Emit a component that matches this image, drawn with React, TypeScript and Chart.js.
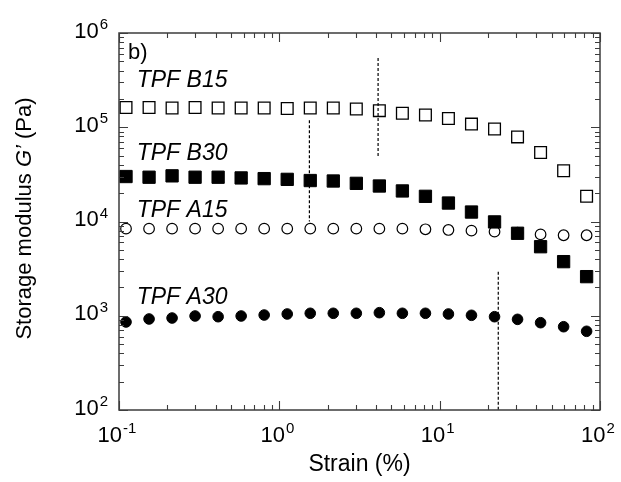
import React, { useEffect, useRef } from 'react';
import { Chart, registerables } from 'chart.js';

Chart.register(...registerables);

// ---- data ----
const strain = [0.1106, 0.154, 0.2143, 0.2982, 0.4152, 0.5779, 0.8043, 1.12, 1.559, 2.17, 3.021, 4.206, 5.854, 8.152, 11.34, 15.79, 21.99, 30.6, 42.6, 59.3, 82.5];
const tpfB15 = [1.62e5, 1.62e5, 1.6e5, 1.62e5, 1.6e5, 1.6e5, 1.6e5, 1.58e5, 1.6e5, 1.6e5, 1.56e5, 1.5e5, 1.41e5, 1.35e5, 1.24e5, 1.08e5, 9.6e4, 7.9e4, 5.4e4, 3.46e4, 1.85e4];
const tpfB30 = [3.0e4, 2.95e4, 3.05e4, 2.95e4, 2.95e4, 2.9e4, 2.85e4, 2.8e4, 2.72e4, 2.69e4, 2.54e4, 2.38e4, 2.11e4, 1.85e4, 1.57e4, 1.26e4, 9.9e3, 7.5e3, 5.4e3, 3.75e3, 2.6e3];
const tpfA15 = [8.4e3, 8.4e3, 8.4e3, 8.4e3, 8.4e3, 8.4e3, 8.4e3, 8.4e3, 8.4e3, 8.4e3, 8.4e3, 8.4e3, 8.4e3, 8.27e3, 8.13e3, 8.0e3, 7.8e3, 7.6e3, 7.3e3, 7.15e3, 7.15e3];
const tpfA30 = [859, 924, 946, 994, 977, 994, 1018, 1044, 1062, 1062, 1062, 1078, 1062, 1062, 1044, 1011, 977, 916, 844, 765, 684];

// dashed vertical markers: [x, yTop, yBottom]
const markerB30 = [1.54, 1.19e5, 1.0e4];
const markerB15 = [4.13, 5.43e5, 4.83e4];
const markerA30 = [23.2, 2.93e3, 100];

const xTickExps = [-1, 0, 1, 2];
const yTickExps = [2, 3, 4, 5, 6];
const seriesLabels = ['TPF B15', 'TPF B30', 'TPF A15', 'TPF A30'];
const panelLabel = 'b)';
const xTitle = 'Strain (%)';
const yTitleParts = ['Storage modulus ', 'G’', ' (Pa)'];

const FONT = '"Liberation Sans", Arial, Helvetica, sans-serif';

const pts = (ys: number[]) => strain.map((x, i) => ({ x, y: ys[i] }));
const vline = (m: number[]) => [{ x: m[0], y: m[1] }, { x: m[0], y: m[2] }];

const framePlugin = {
  id: 'framePlugin',
  afterDraw(chart: any) {
    const { ctx, chartArea: a, scales } = chart;
    const xs = scales.x;
    const ys = scales.y;
    ctx.save();
    // frame
    ctx.strokeStyle = '#3c3c3c';
    ctx.lineWidth = 1.5;
    ctx.strokeRect(a.left, a.top, a.right - a.left, a.bottom - a.top);
    // ticks
    ctx.lineWidth = 1.1;
    ctx.beginPath();
    const xMin = xTickExps[0], xMax = xTickExps[xTickExps.length - 1];
    for (let d = xMin; d <= xMax; d++) {
      for (let m = 1; m <= 9; m++) {
        if (d === xMax && m > 1) break;
        const px = Math.round(xs.getPixelForValue(m * Math.pow(10, d))) + 0.5;
        const len = m === 1 ? 9 : 5;
        ctx.moveTo(px, a.bottom);
        ctx.lineTo(px, a.bottom - len);
        ctx.moveTo(px, a.top);
        ctx.lineTo(px, a.top + len);
      }
    }
    const yMin = yTickExps[0], yMax = yTickExps[yTickExps.length - 1];
    for (let d = yMin; d <= yMax; d++) {
      for (let m = 1; m <= 9; m++) {
        if (d === yMax && m > 1) break;
        const py = Math.round(ys.getPixelForValue(m * Math.pow(10, d))) + 0.5;
        const len = m === 1 ? 9 : 5;
        ctx.moveTo(a.left, py);
        ctx.lineTo(a.left + len, py);
        ctx.moveTo(a.right, py);
        ctx.lineTo(a.right - len, py);
      }
    }
    ctx.stroke();

    // tick labels
    ctx.fillStyle = '#000';
    ctx.textBaseline = 'alphabetic';
    ctx.textAlign = 'left';
    const baseFont = `22px ${FONT}`;
    const supFont = `15px ${FONT}`;
    xTickExps.forEach((e) => {
      const px = xs.getPixelForValue(Math.pow(10, e));
      ctx.font = baseFont;
      const w1 = ctx.measureText('10').width;
      ctx.font = supFont;
      const w2 = ctx.measureText(String(e)).width;
      const start = px - (w1 + w2 + 1) / 2 - 2;
      const base = a.bottom + 31.5;
      ctx.font = baseFont;
      ctx.fillText('10', start, base);
      ctx.font = supFont;
      ctx.fillText(String(e), start + w1 + 1, base - 8.5);
    });
    yTickExps.forEach((e) => {
      const py = ys.getPixelForValue(Math.pow(10, e));
      ctx.font = baseFont;
      const w1 = ctx.measureText('10').width;
      ctx.font = supFont;
      const w2 = ctx.measureText(String(e)).width;
      const right = a.left - 11;
      const base = py + 4.5;
      const start = right - w2 - 1 - w1;
      ctx.font = baseFont;
      ctx.fillText('10', start, base);
      ctx.font = supFont;
      ctx.fillText(String(e), start + w1 + 1, base - 8.5);
    });

    // x title
    ctx.font = `23px ${FONT}`;
    ctx.textAlign = 'center';
    ctx.fillText(xTitle, (a.left + a.right) / 2, a.bottom + 61);

    // y title (rotated, with italic G')
    ctx.save();
    ctx.translate(31, (a.top + a.bottom) / 2 - 3);
    ctx.rotate(-Math.PI / 2);
    ctx.textAlign = 'left';
    const fonts = [`22px ${FONT}`, `italic 22px ${FONT}`, `22px ${FONT}`];
    let total = 0;
    const widths = yTitleParts.map((s, i) => {
      ctx.font = fonts[i];
      const w = ctx.measureText(s).width;
      total += w;
      return w;
    });
    let cx = -total / 2;
    yTitleParts.forEach((s, i) => {
      ctx.font = fonts[i];
      ctx.fillText(s, cx, 0);
      cx += widths[i];
    });
    ctx.restore();

    // annotations
    ctx.textAlign = 'left';
    ctx.font = `22px ${FONT}`;
    ctx.fillText(panelLabel, xs.getPixelForValue(0.114), ys.getPixelForValue(5.26e5));
    ctx.font = `italic 23px ${FONT}`;
    const lx = xs.getPixelForValue(0.129);
    const labelY = [2.65e5, 4.5e4, 1.12e4, 1.33e3];
    seriesLabels.forEach((s, i) => {
      ctx.fillText(s, lx, ys.getPixelForValue(labelY[i]));
    });
    ctx.restore();
  },
};

export default function App() {
  const ref = useRef<HTMLCanvasElement | null>(null);
  useEffect(() => {
    if (!ref.current) return;
    const dash = (m: number[]) => ({
      type: 'line' as const,
      data: vline(m),
      borderColor: '#000',
      borderWidth: 1.2,
      borderDash: [3, 2],
      pointRadius: 0,
      fill: false,
    });
    const chart = new Chart(ref.current, {
      type: 'scatter',
      data: {
        datasets: [
          dash(markerB30) as any,
          dash(markerB15) as any,
          dash(markerA30) as any,
          {
            label: 'TPF B30',
            data: pts(tpfB30),
            pointStyle: 'rect',
            pointRadius: 8.7,
            backgroundColor: '#000',
            borderColor: '#000',
            borderWidth: 1,
          },
          {
            label: 'TPF A15',
            data: pts(tpfA15),
            pointStyle: 'circle',
            pointRadius: 5.3,
            backgroundColor: 'rgba(0,0,0,0)',
            borderColor: '#000',
            borderWidth: 1.2,
          },
          {
            label: 'TPF B15',
            data: pts(tpfB15),
            pointStyle: 'rect',
            pointRadius: 8.3,
            backgroundColor: 'rgba(0,0,0,0)',
            borderColor: '#000',
            borderWidth: 1.3,
          },
          {
            label: 'TPF A30',
            data: pts(tpfA30),
            pointStyle: 'circle',
            pointRadius: 5.3,
            backgroundColor: '#000',
            borderColor: '#000',
            borderWidth: 1,
          },
        ],
      },
      options: {
        animation: false,
        responsive: false,
        layout: { padding: { left: 119, top: 33, right: 21, bottom: 72 } },
        plugins: { legend: { display: false }, tooltip: { enabled: false } },
        scales: {
          x: { type: 'logarithmic', min: 0.1, max: 100, display: false },
          y: { type: 'logarithmic', min: 100, max: 1e6, display: false },
        },
      },
      plugins: [framePlugin],
    });
    return () => chart.destroy();
  }, []);
  return (
    <div style={{ position: 'absolute', left: 0, top: 0, width: 621, height: 482, background: '#fff' }}>
      <canvas ref={ref} width={621} height={482} style={{ display: 'block' }} />
    </div>
  );
}
